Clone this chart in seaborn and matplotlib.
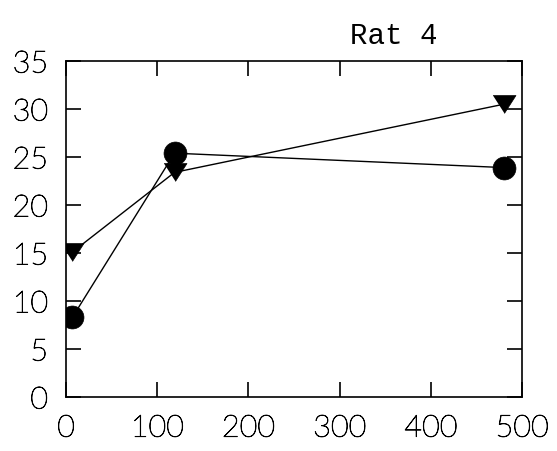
import matplotlib
matplotlib.use("Agg")
import matplotlib.pyplot as plt
import matplotlib.patheffects as pe
import seaborn as sns
import pandas as pd

time = [7, 119, 480]
circle_vals = [8.3, 25.4, 23.9]
triangle_vals = [15.1, 23.4, 30.5]
x_ticks = [0, 100, 200, 300, 400, 500]
y_ticks = [0, 5, 10, 15, 20, 25, 30, 35]
title = "Rat 4"

df = pd.DataFrame({
    "time": time * 2,
    "value": circle_vals + triangle_vals,
    "series": ["circle"] * 3 + ["triangle"] * 3,
})

sns.set_style("ticks")
fig = plt.figure(figsize=(5.57, 4.51), dpi=100)
ax = fig.add_axes([0.1185, 0.1197, 0.8187, 0.745])

tri = [(-1.0, 0.78), (1.0, 0.78), (0.0, -0.78)]
sns.lineplot(data=df, x="time", y="value", style="series",
             markers={"circle": "o", "triangle": tri}, dashes=False,
             color="black", markersize=16.5, linewidth=1.0, legend=False,
             markeredgecolor="black", markeredgewidth=0.5, ax=ax)

ax.set_xlim(0, 500)
ax.set_ylim(0, 35)
ax.set_xticks(x_ticks)
ax.set_yticks(y_ticks)
ax.set_xlabel("")
ax.set_ylabel("")
for s in ax.spines.values():
    s.set_visible(True)
    s.set_linewidth(1.2)
    s.set_color("black")
ax.tick_params(axis="both", direction="in", length=11, width=1.2,
               top=True, right=True, colors="black", labelcolor="black",
               labelsize=22)
ax.tick_params(axis="x", pad=12)
ax.tick_params(axis="y", pad=13)
thick = [pe.withStroke(linewidth=0.6, foreground="black")]
for lab in ax.get_xticklabels() + ax.get_yticklabels():
    lab.set_fontfamily("Lato")
    lab.set_fontweight("light")
    lab.set_color("black")
    lab.set_path_effects(thick)

fig.text(0.707, 0.902, title, ha="center", va="baseline",
         fontfamily="Liberation Mono", fontsize=21, color="black")

fig.savefig("out.png", dpi=100)
